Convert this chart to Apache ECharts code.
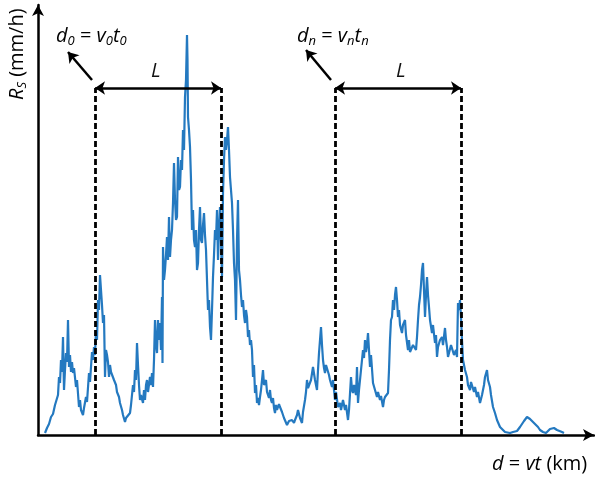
<!DOCTYPE html>
<html>
<head>
<meta charset="utf-8">
<script src="https://cdn.jsdelivr.net/npm/echarts@6/dist/echarts.min.js"></script>
<style>
    html, body { margin: 0; padding: 0; background: #fff; }
    #chart { width: 595px; height: 479px; }
</style>
</head>
<body>
<div id="chart"></div>
<script>
    // distance along the storm track (km) and rain rate (mm/h)
    var distKm = [0.7,0.9,1.1,1.3,1.5,1.7,1.8,2.0,2.1,2.2,2.3,2.4,2.5,2.6,2.7,2.8,2.9,3.0,3.1,3.2,3.3,3.4,3.5,3.6,3.8,3.9,
        4.1,4.2,4.3,4.5,4.6,4.8,4.9,5.1,5.2,5.4,5.5,5.6,5.7,5.8,5.9,6.0,6.1,6.2,6.3,6.4,6.5,6.6,6.7,6.8,6.9,7.0,7.1,7.2,7.3,
        7.5,7.6,7.8,7.9,8.1,8.2,8.4,8.5,8.7,8.8,9.0,9.2,9.3,9.5,9.6,9.7,9.8,9.9,10.0,10.1,10.2,10.3,10.5,10.6,10.7,10.8,10.9,
        11.0,11.2,11.3,11.4,11.5,11.6,11.7,11.8,11.9,12.0,12.1,12.2,12.3,12.4,12.45,12.5,12.6,12.7,12.8,12.9,13.0,13.1,13.2,
        13.3,13.4,13.5,13.6,13.7,13.8,13.9,14.0,14.1,14.2,14.3,14.4,14.5,14.6,14.7,14.8,14.9,14.95,15.0,15.1,15.2,15.3,15.4,
        15.5,15.6,15.7,15.8,15.9,16.0,16.1,16.2,16.3,16.4,16.5,16.6,16.7,16.8,16.9,17.0,17.1,17.2,17.3,17.4,17.5,17.6,17.7,
        17.8,17.9,18.0,18.1,18.2,18.3,18.4,18.5,18.6,18.7,18.8,18.9,19.0,19.1,19.2,19.3,19.4,19.5,19.6,19.7,19.8,19.9,20.0,
        20.1,20.2,20.3,20.4,20.5,20.6,20.7,20.8,20.9,21.0,21.1,21.2,21.3,21.4,21.5,21.6,21.7,21.8,21.9,22.0,22.1,22.2,22.3,
        22.4,22.5,22.6,22.7,22.8,22.9,23.0,23.1,23.2,23.3,23.4,23.5,23.6,23.7,23.8,23.9,24.1,24.2,24.4,24.6,24.7,24.9,25.1,
        25.2,25.4,25.6,25.7,25.9,26.0,26.2,26.4,26.5,26.7,26.8,26.9,27.0,27.2,27.3,27.5,27.7,27.9,28.0,28.1,28.2,28.3,28.4,
        28.5,28.6,28.7,28.8,29.0,29.1,29.2,29.4,29.5,29.7,29.8,30.0,30.2,30.3,30.5,30.7,30.8,31.0,31.1,31.3,31.4,31.5,31.6,
        31.7,31.8,31.9,32.0,32.1,32.2,32.3,32.5,32.6,32.7,32.8,32.9,33.0,33.1,33.2,33.3,33.4,33.5,33.7,33.9,34.0,34.2,34.3,
        34.5,34.6,34.7,34.9,35.0,35.1,35.2,35.3,35.4,35.5,35.6,35.7,35.8,35.9,36.0,36.1,36.2,36.4,36.5,36.7,36.8,37.0,37.1,
        37.2,37.4,37.5,37.7,37.8,37.9,38.0,38.1,38.2,38.3,38.4,38.5,38.6,38.7,38.8,38.9,39.0,39.1,39.2,39.4,39.5,39.7,39.8,
        39.9,40.0,40.2,40.4,40.5,40.7,40.8,40.9,41.0,41.2,41.3,41.5,41.6,41.8,41.9,42.0,42.1,42.2,42.3,42.4,42.5,42.7,42.9,
        43.0,43.2,43.3,43.5,43.6,43.7,43.9,44.0,44.2,44.4,44.6,44.7,44.9,45.0,45.2,45.3,45.5,45.7,45.9,46.2,46.4,46.7,46.9,
        47.2,47.5,47.7,47.9,48.2,48.4,48.6,48.7,48.9,49.0,49.2,49.5,49.7,50.0,50.2,50.5,50.8,51.0,51.2,51.4,51.6,51.7,51.9,
        52.1,52.4,52.6];
    var rainRate = [0.2,0.7,1.1,1.8,2.1,3.0,3.2,4.0,5.8,5.2,7.5,6.3,9.8,4.5,6.5,8.2,7.3,11.5,6.8,8.0,6.3,7.3,6.2,6.7,4.8,5.5,
        2.8,3.5,2.5,2.0,2.7,3.8,3.3,6.2,5.3,8.3,7.5,8.8,8.0,10.5,9.5,13.5,12.5,16.0,14.5,13.0,11.2,12.0,5.8,8.5,8.0,7.3,5.8,7.0,6.3,
        6.2,5.5,5.0,4.3,3.8,3.2,2.5,2.0,1.3,1.7,1.5,2.2,3.0,5.0,4.3,6.5,5.5,9.2,7.0,5.0,3.5,4.0,3.2,4.5,3.5,5.0,5.5,
        4.3,5.8,5.0,6.2,4.8,7.5,11.5,9.0,8.2,11.5,9.5,11.2,8.5,13.8,7.2,18.8,15.5,16.5,18.0,19.8,17.5,21.8,17.8,
        19.5,20.5,23.2,27.2,23.5,21.5,21.8,27.8,24.5,24.8,27.5,26.5,30.5,28.5,33.8,35.5,40.0,37.5,31.8,30.5,28.8,25.5,20.5,
        22.5,19.5,18.8,20.5,16.5,17.2,20.5,22.8,19.5,19.2,21.0,22.2,20.0,18.5,15.5,12.5,13.5,10.8,9.5,12.5,15.8,18.0,20.5,
        19.5,22.5,17.5,20.5,22.8,19.5,15.8,24.2,27.5,29.8,28.5,29.5,30.8,28.5,25.8,24.5,23.2,20.5,17.2,15.5,11.5,19.5,23.5,
        16.5,15.5,14.0,12.8,13.5,12.0,11.2,12.5,11.8,9.8,10.5,9.0,9.5,8.5,5.8,7.0,4.2,5.0,3.2,3.7,3.0,3.8,4.5,
        5.5,6.5,5.0,4.8,5.5,4.3,4.2,3.7,4.5,3.5,3.2,3.7,2.7,2.2,3.0,2.5,3.1,2.8,2.3,1.7,1.5,1.0,1.4,
        1.3,1.5,1.2,1.5,2.0,2.5,1.7,1.2,2.3,3.5,4.3,5.5,4.7,4.5,5.5,6.8,5.5,4.5,6.5,8.2,9.5,10.8,9.0,
        7.5,6.7,6.2,7.0,6.8,6.0,5.5,4.8,5.5,3.5,4.3,2.8,3.2,2.5,3.5,2.5,3.0,1.5,2.5,5.8,4.5,4.2,5.0,
        5.2,4.0,6.8,3.2,4.5,5.5,6.5,8.5,7.7,9.5,8.3,9.0,10.2,8.5,6.8,8.0,7.8,5.2,4.5,3.8,4.3,3.5,3.9,
        2.8,3.5,3.8,4.0,4.2,6.5,9.5,11.5,11.8,13.5,12.5,14.0,14.8,13.5,11.8,12.5,11.0,10.2,11.0,11.5,10.0,8.5,9.5,
        8.3,8.2,9.0,9.2,8.5,9.8,11.5,13.0,13.8,15.0,16.5,17.2,14.5,11.8,14.0,15.8,14.0,12.8,11.5,10.2,11.0,9.2,10.0,
        7.8,8.8,9.5,9.8,9.0,10.7,9.5,8.8,7.8,7.8,9.0,8.8,8.0,8.5,7.8,13.2,12.5,13.5,11.8,9.5,7.5,6.5,5.8,
        5.0,4.5,5.3,5.2,4.3,4.8,3.8,4.3,3.2,4.0,5.0,5.8,6.5,5.5,4.8,4.0,2.8,2.2,1.5,0.8,0.6,0.3,0.2,
        0.2,0.3,0.3,0.4,0.8,1.1,1.4,1.5,1.8,1.7,1.6,1.3,1.1,0.8,0.5,0.3,0.2,0.3,0.6,0.8,0.7,0.8,0.5,
        0.4,0.3,0.2];

    // window edges d0, d0+L, dn, dn+L and the height of the L arrows
    var windowEdges = [5.7, 18.3, 29.7, 42.3];
    var windowTop = 34.7;
    // little pointers from the window corner to the d labels
    var pointerFrom = [[5.4, 35.5], [29.3, 35.5]];
    var pointerTo = [[3.0, 38.3], [26.8, 38.5]];

    var seriesData = [];
    for (var i = 0; i < distKm.length; i++) {
        seriesData.push([distKm[i], rainRate[i]]);
    }

    var dashStyle = { color: '#000', width: 2.8, type: [6, 3] };
    var solidStyle = { color: '#000', width: 2.5, type: 'solid' };
    var markLines = [];
    windowEdges.forEach(function (x) {
        markLines.push([{ coord: [x, 0], lineStyle: dashStyle, symbol: 'none' },
                        { coord: [x, windowTop], symbol: 'none' }]);
    });
    markLines.push([{ coord: [windowEdges[0], windowTop], lineStyle: solidStyle, symbol: 'arrow' },
                    { coord: [windowEdges[1], windowTop], symbol: 'arrow' }]);
    markLines.push([{ coord: [windowEdges[2], windowTop], lineStyle: solidStyle, symbol: 'arrow' },
                    { coord: [windowEdges[3], windowTop], symbol: 'arrow' }]);
    for (var k = 0; k < pointerFrom.length; k++) {
        markLines.push([{ coord: pointerFrom[k], lineStyle: solidStyle, symbol: 'none' },
                        { coord: pointerTo[k], symbol: 'arrow' }]);
    }

    var chart = echarts.init(document.getElementById('chart'), null, { renderer: 'canvas' });

    var fontFam = '"Open Sans", "Noto Sans", sans-serif';
    var richMain = { fontSize: 20, fontStyle: 'italic', fontFamily: fontFam, color: '#111' };
    var richUp = { fontSize: 20, fontFamily: fontFam, color: '#111' };
    var richSub = { fontSize: 13, fontStyle: 'italic', fontFamily: fontFam, color: '#111', padding: [10, 0, 0, 0] };

    var option = {
        animation: false,
        backgroundColor: '#fff',
        grid: { left: 38, right: 1, top: 5, bottom: 44 },
        xAxis: {
            type: 'value',
            min: 0,
            max: 55.6,
            axisLine: { show: true, symbol: ['none', 'arrow'], symbolSize: [9, 11], lineStyle: { color: '#000', width: 2.5 } },
            axisTick: { show: false },
            axisLabel: { show: false },
            splitLine: { show: false }
        },
        yAxis: {
            type: 'value',
            min: 0,
            max: 43,
            axisLine: { show: true, symbol: ['none', 'arrow'], symbolSize: [9, 11], lineStyle: { color: '#000', width: 2.5 } },
            axisTick: { show: false },
            axisLabel: { show: false },
            splitLine: { show: false }
        },
        graphic: [
            {
                type: 'text', left: 56, top: 26,
                style: { text: '{i|d}{s|0}{n| = }{i|v}{s|0}{i|t}{s|0}', rich: { i: richMain, s: richSub, n: richUp } }
            },
            {
                type: 'text', left: 297, top: 26,
                style: { text: '{i|d}{s|n}{n| = }{i|v}{s|n}{i|t}{s|n}', rich: { i: richMain, s: richSub, n: richUp } }
            },
            { type: 'text', left: 151, top: 61, style: { text: 'L', font: 'italic 20px ' + fontFam, fill: '#111' } },
            { type: 'text', left: 396, top: 61, style: { text: 'L', font: 'italic 20px ' + fontFam, fill: '#111' } },
            {
                type: 'text', left: 492, top: 454,
                style: { text: '{i|d}{n| = }{i|vt}{n| (km)}', rich: { i: richMain, n: richUp } }
            },
            {
                type: 'text', x: 6, y: 100, rotation: Math.PI / 2,
                style: { text: '{i|R}{s|S}{n| (mm/h)}', rich: { i: richMain, s: richSub, n: richUp } }
            }
        ],
        series: [{
            type: 'line',
            data: seriesData,
            showSymbol: false,
            lineStyle: { color: '#2479c0', width: 2.2 },
            markLine: {
                silent: true,
                symbolSize: 10,
                label: { show: false },
                data: markLines
            }
        }]
    };
    chart.setOption(option);
</script>
</body>
</html>
